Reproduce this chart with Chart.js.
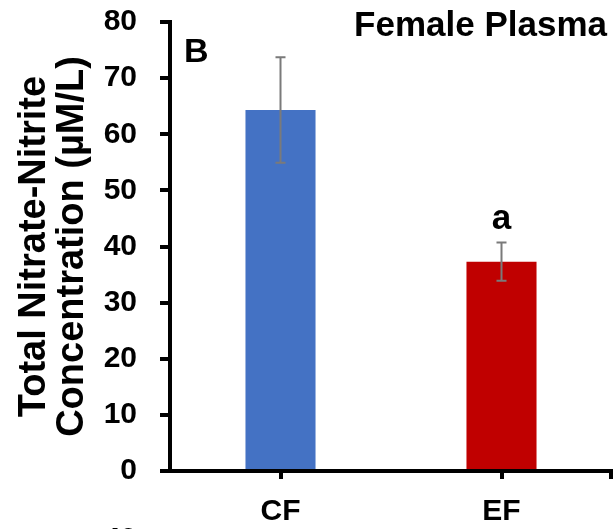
<!DOCTYPE html>
<html>
<head>
<meta charset="utf-8">
<script src="https://cdn.jsdelivr.net/npm/chart.js@4.4.1/dist/chart.umd.min.js"></script>
<style>
  html, body { margin: 0; padding: 0; background: #fff; }
  #wrap { width: 613px; height: 529px; position: relative; }
</style>
</head>
<body>
<div id="wrap"><canvas id="nitrateChart" width="613" height="529"></canvas></div>
<script>
// values
const categories = ['CF', 'EF'];
const means = [64.3, 37.3];
const errors = [9.4, 3.4];
const sigLabels = ['', 'a'];
const barColors = ['#4472C4', '#C00000'];
const yMin = 0, yMax = 80, yStep = 10;

const FONT = '"Liberation Sans", Arial, sans-serif';

// error bars + text overlays
const overlayPlugin = {
  id: 'overlay',
  afterDatasetsDraw(chart) {
    const ctx = chart.ctx;
    const y = chart.scales.y;
    const meta = chart.getDatasetMeta(0);
    ctx.save();
    meta.data.forEach((bar, i) => {
      const top = y.getPixelForValue(means[i] + errors[i]);
      const bot = y.getPixelForValue(means[i] - errors[i]);
      ctx.strokeStyle = '#7a7a7a';
      ctx.lineWidth = 2;
      ctx.beginPath();
      ctx.moveTo(bar.x, top); ctx.lineTo(bar.x, bot);
      ctx.moveTo(bar.x - 5, top); ctx.lineTo(bar.x + 5, top);
      ctx.moveTo(bar.x - 5, bot); ctx.lineTo(bar.x + 5, bot);
      ctx.stroke();
      if (sigLabels[i]) {
        ctx.fillStyle = '#000';
        ctx.font = 'bold 35px ' + FONT;
        ctx.textAlign = 'center';
        ctx.textBaseline = 'alphabetic';
        ctx.fillText(sigLabels[i], bar.x, top - 14);
      }
    });
    // end tick on the x axis
    const area = chart.chartArea;
    ctx.strokeStyle = '#000';
    ctx.lineWidth = 4;
    ctx.beginPath();
    ctx.moveTo(area.right - 1, area.bottom);
    ctx.lineTo(area.right - 1, area.bottom + 8);
    ctx.stroke();

    ctx.fillStyle = '#000';
    ctx.font = 'bold 34px ' + FONT;
    ctx.textAlign = 'left';
    ctx.fillText('B', 184, 62);
    ctx.textAlign = 'right';
    ctx.font = 'bold 35px ' + FONT;
    ctx.fillText('Female Plasma', 607, 36);
    // cut-off tick label of the panel below
    ctx.font = 'bold 30px ' + FONT;
    ctx.fillText('40', 137, 548);
    ctx.restore();
  }
};

new Chart(document.getElementById('nitrateChart').getContext('2d'), {
  type: 'bar',
  data: {
    labels: categories,
    datasets: [{
      data: means,
      backgroundColor: barColors,
      borderWidth: 0,
      barPercentage: 1,
      categoryPercentage: 0.317
    }]
  },
  options: {
    responsive: false,
    animation: false,
    layout: { padding: { top: 22, right: 1, left: 0, bottom: 0 } },
    plugins: { legend: { display: false }, tooltip: { enabled: false } },
    scales: {
      x: {
        offset: true,
        grid: { offset: false, drawOnChartArea: false, drawTicks: true, tickLength: 8, lineWidth: 4, color: '#000' },
        border: { display: true, width: 4, color: '#000' },
        ticks: { color: '#000', padding: 15, font: { family: FONT, size: 30, weight: 'bold' } },
        afterFit(scale) {
          scale.height = 58;
          scale.paddingLeft = 0; scale.paddingRight = 0;
        }
      },
      y: {
        min: yMin,
        max: yMax,
        grid: { drawOnChartArea: false, drawTicks: true, tickLength: 10, lineWidth: 4, color: '#000' },
        border: { display: true, width: 4, color: '#000' },
        ticks: { stepSize: yStep, color: '#000', padding: 23, font: { family: FONT, size: 30, weight: 'bold' } },
        title: {
          display: true,
          text: ['Total Nitrate-Nitrite', 'Concentration (\u00b5M/L)'],
          color: '#000',
          font: { family: FONT, size: 38, weight: 'bold', lineHeight: 1.0 },
          padding: { top: 16, bottom: 0 }
        },
        afterFit(scale) {
          scale.width = 170;
          scale.paddingTop = 0; scale.paddingBottom = 0;
        }
      }
    }
  },
  plugins: [overlayPlugin]
});
</script>
</body>
</html>
